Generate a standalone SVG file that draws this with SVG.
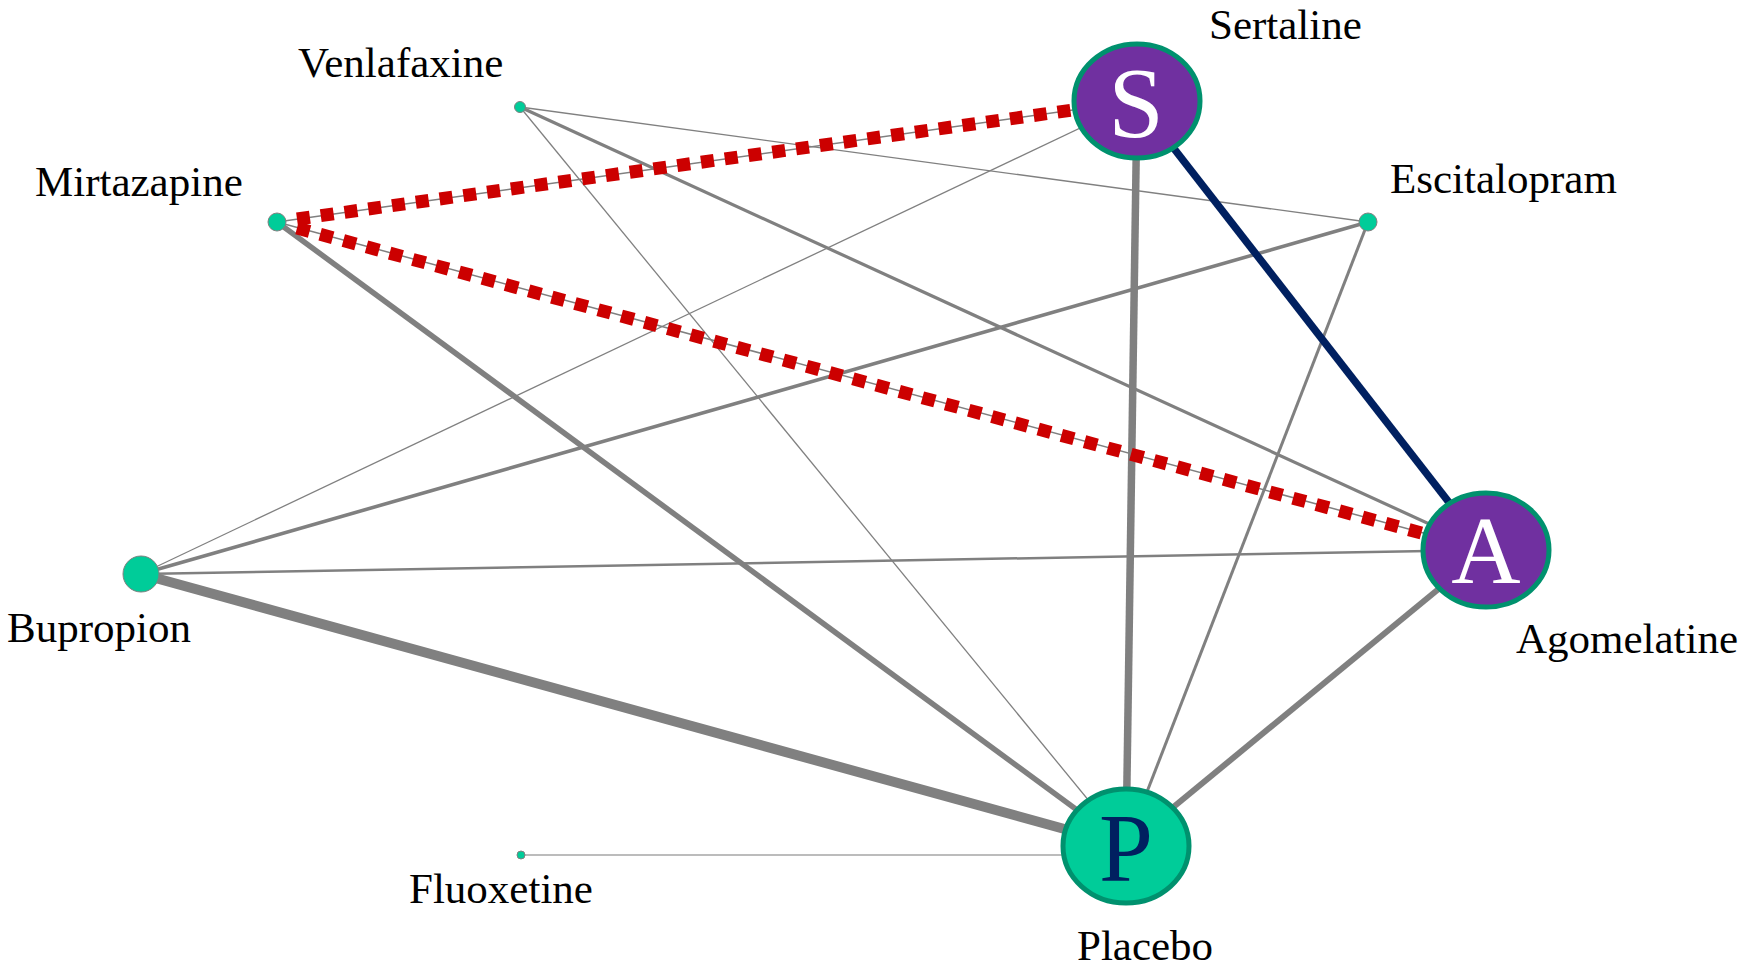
<svg xmlns="http://www.w3.org/2000/svg" width="1739" height="966" viewBox="0 0 1739 966">
<style>
.lbl{font-family:"Liberation Serif","Times New Roman",serif;font-size:43px;fill:#000}
.big{font-family:"Liberation Serif","Times New Roman",serif;text-anchor:middle}
.e{stroke:#808080;fill:none;stroke-linecap:butt}
.red{stroke:#CC0000;stroke-width:13;stroke-dasharray:13 11;fill:none}
.dot{fill:#00CC99;stroke:#808080;stroke-width:1}
.hub{stroke:#00916E;stroke-width:5}
</style>
<rect width="1739" height="966" fill="#fff"/>
<g id="connectors">
  <line class="e" x1="520" y1="107" x2="1368" y2="222" stroke-width="1.3"/>
  <line class="e" x1="520" y1="107" x2="1486" y2="550" stroke-width="3.2"/>
  <line class="e" x1="520" y1="107" x2="1126" y2="846" stroke-width="1.3"/>
  <line class="e" x1="1137" y1="101" x2="141" y2="574" stroke-width="1.3"/>
  <line class="e" x1="1368" y1="222" x2="141" y2="574" stroke-width="3.6"/>
  <line class="e" x1="1368" y1="222" x2="1126" y2="846" stroke-width="3"/>
  <line class="e" x1="141" y1="574" x2="1486" y2="550" stroke-width="2.5"/>
  <line class="e" x1="141" y1="574" x2="1126" y2="846" stroke-width="10"/>
  <line class="e" x1="277" y1="222" x2="1126" y2="846" stroke-width="5.5"/>
  <line class="e" x1="1137" y1="101" x2="1126" y2="846" stroke-width="7.5"/>
  <line class="e" x1="1486" y1="550" x2="1126" y2="846" stroke-width="6"/>
  <line x1="521" y1="855" x2="1126" y2="855" stroke="#A6A6A6" stroke-width="1.5"/>
  <line x1="1137" y1="101" x2="1486" y2="550" stroke="#002060" stroke-width="7.5"/>
  <line class="e" x1="277" y1="222" x2="1137" y2="101" stroke-width="1.5"/>
  <line class="e" x1="277" y1="222" x2="1486" y2="550" stroke-width="1.5"/>
  <line class="red" x1="297" y1="219" x2="1080" y2="109"/>
  <line class="red" x1="297" y1="228" x2="1425" y2="534"/>
</g>
<g id="node-venlafaxine">
  <circle class="dot" cx="520" cy="107" r="5.5"/>
  <text class="lbl" x="298" y="77">Venlafaxine</text>
</g>
<g id="node-mirtazapine">
  <circle class="dot" cx="277" cy="222" r="9"/>
  <text class="lbl" x="35" y="196">Mirtazapine</text>
</g>
<g id="node-escitalopram">
  <circle class="dot" cx="1368" cy="222" r="9"/>
  <text class="lbl" x="1390" y="193">Escitalopram</text>
</g>
<g id="node-bupropion">
  <circle class="dot" cx="141" cy="574" r="18"/>
  <text class="lbl" x="7" y="642">Bupropion</text>
</g>
<g id="node-fluoxetine">
  <circle class="dot" cx="521" cy="855" r="4"/>
  <text class="lbl" x="409" y="903">Fluoxetine</text>
</g>
<g id="node-sertaline">
  <ellipse class="hub" cx="1137" cy="101" rx="63" ry="57" fill="#7030A0"/>
  <text class="big" x="1136" y="136" font-size="100" fill="#fff">S</text>
  <text class="lbl" x="1209" y="39">Sertaline</text>
</g>
<g id="node-agomelatine">
  <ellipse class="hub" cx="1486" cy="550" rx="63" ry="57" fill="#7030A0"/>
  <text class="big" x="1486" y="583" font-size="96" fill="#fff">A</text>
  <text class="lbl" x="1516" y="653">Agomelatine</text>
</g>
<g id="node-placebo">
  <ellipse class="hub" cx="1126" cy="846" rx="63" ry="57" fill="#00CC99"/>
  <text class="big" x="1126" y="881" font-size="97" fill="#002060">P</text>
  <text class="lbl" x="1077" y="960">Placebo</text>
</g>
</svg>
